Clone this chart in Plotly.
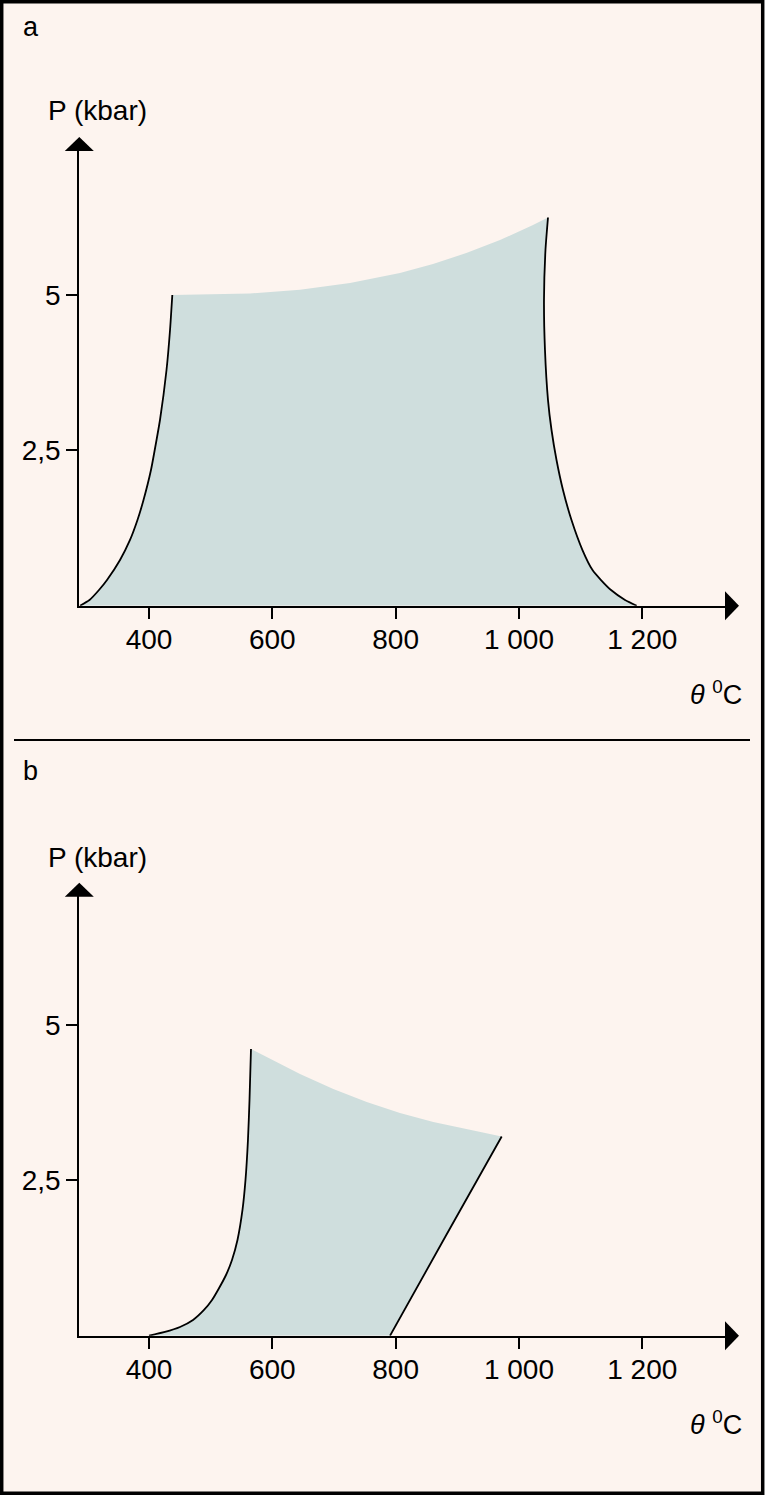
import plotly.graph_objects as go

# ---------------- data ----------------
# Panel a : stability field, temperature (°C) vs pressure (kbar)
A_LEFT_T = [288.1, 303.5, 318.9, 331.9, 353.0, 369.2, 381.3, 391.1, 403.2, 412.2, 417.8, 428.4, 434.1, 437.8]
A_LEFT_P = [0, 0.092, 0.253, 0.414, 0.736, 1.058, 1.379, 1.701, 2.184, 2.667, 2.989, 3.794, 4.438, 5.001]
A_TOP_T = [437.8, 563.8, 644.9, 726.0, 807.0, 860.6, 915.7, 969.3, 1022.8, 1047.1]
A_TOP_P = [5.001, 5.025, 5.085, 5.192, 5.356, 5.500, 5.680, 5.886, 6.127, 6.248]
A_RIGHT_T = [1047.1, 1043.0, 1040.6, 1042.2, 1047.1, 1052.8, 1060.9, 1071.4, 1085.2, 1103.0, 1119.3,
             1133.1, 1149.3, 1172.0, 1191.0]
A_RIGHT_P = [6.248, 5.724, 4.920, 4.115, 3.310, 2.828, 2.345, 1.862, 1.379, 0.896, 0.574,
             0.413, 0.252, 0.092, 0]

# Panel b
B_LEFT_T = [400.0, 425.9, 450.3, 471.4, 489.2, 502.2, 511.9, 524.9, 534.6, 543.5, 551.6, 556.5, 560.5, 563.0, 565.4]
B_LEFT_P = [0, 0.060, 0.140, 0.253, 0.414, 0.575, 0.736, 0.977, 1.219, 1.541, 2.024, 2.507, 3.151, 3.795, 4.615]
B_TOP_T = [565.4, 644.9, 698.9, 753.1, 807.0, 861.1, 915.2, 972.0]
B_TOP_P = [4.615, 4.212, 3.970, 3.761, 3.584, 3.439, 3.322, 3.206]
B_RIGHT_T = [972.0, 881.0, 790.9]
B_RIGHT_P = [3.206, 1.60, 0]

X_TICKS = [400, 600, 800, 1000, 1200]
X_TICK_TEXT = ["400", "600", "800", "1 000", "1 200"]
Y_TICKS = [2.5, 5]
Y_TICK_TEXT = ["2,5", "5"]

# ---------------- styling / layout geometry ----------------
W, H = 769, 1500
BG = "#fdf4ef"
FILL = "#cfdedd"
FONT = "Liberation Sans"

PX_PER_T = 0.6166      # px per °C
PX_PER_P = 62.13       # px per kbar
T_REF, T_REF_PX = 400, 149.0
X0_PX, X1_PX = 79.3, 726.0        # x-axis line extent (px)
ARROW_LEN, ARROW_HALF = 14.0, 14.5

PANELS = [
    dict(base=605.7, top=150.0, letter="a", letter_y=26.5, label_y=111.0, theta_y=693.3),
    dict(base=1335.7, top=895.7, letter="b", letter_y=770.5, label_y=857.0, theta_y=1423.3),
]


def fx(px):
    return px / W


def fy(py):
    return 1 - py / H


def t_at(px):
    return T_REF + (px - T_REF_PX) / PX_PER_T


fig = go.Figure()

areas = [
    (A_LEFT_T, A_LEFT_P, A_TOP_T, A_TOP_P, A_RIGHT_T, A_RIGHT_P),
    (B_LEFT_T, B_LEFT_P, B_TOP_T, B_TOP_P, B_RIGHT_T, B_RIGHT_P),
]

shapes = []
annotations = []

for i, (panel, area) in enumerate(zip(PANELS, areas)):
    lt, lp, tt, tp, rt, rp = area
    sfx = "" if i == 0 else str(i + 1)
    xa, ya = "x" + sfx, "y" + sfx
    poly_t = lt + tt[1:] + rt[1:]
    poly_p = lp + tp[1:] + rp[1:]
    fig.add_trace(go.Scatter(x=poly_t, y=poly_p, mode="lines", fill="toself",
                             fillcolor=FILL, line=dict(width=0, color=FILL),
                             hoverinfo="skip", showlegend=False, xaxis=xa, yaxis=ya))
    for ct, cp in ((lt, lp), (rt, rp)):
        fig.add_trace(go.Scatter(x=ct, y=cp, mode="lines",
                                 line=dict(color="black", width=1.8, shape="spline", smoothing=0.6),
                                 hoverinfo="skip", showlegend=False, xaxis=xa, yaxis=ya))

    base, top = panel["base"], panel["top"]
    xaxis = dict(domain=[fx(X0_PX), fx(X1_PX)], range=[t_at(X0_PX), t_at(X1_PX)],
                 anchor=ya, showline=True, linecolor="black", linewidth=2,
                 ticks="outside", ticklen=11, tickwidth=1.8, tickcolor="black",
                 tickvals=X_TICKS, ticktext=X_TICK_TEXT, ticklabelstandoff=-3,
                 tickfont=dict(family=FONT, size=28, color="black"),
                 showgrid=False, zeroline=False, fixedrange=True)
    yaxis = dict(domain=[fy(base), fy(top)], range=[0, (base - top) / PX_PER_P],
                 anchor=xa, showline=True, linecolor="black", linewidth=2,
                 ticks="outside", ticklen=11, tickwidth=1.8, tickcolor="black",
                 tickvals=Y_TICKS, ticktext=Y_TICK_TEXT,
                 tickfont=dict(family=FONT, size=28, color="black"),
                 showgrid=False, zeroline=False, fixedrange=True)
    fig.update_layout(**{"xaxis" + sfx: xaxis, "yaxis" + sfx: yaxis})

    # arrow heads
    shapes.append(dict(type="path", xref="paper", yref="paper", layer="above",
                       path=f"M {fx(X1_PX - 1)} {fy(base - ARROW_HALF)} L {fx(X1_PX - 1 + ARROW_LEN)} {fy(base)} "
                            f"L {fx(X1_PX - 1)} {fy(base + ARROW_HALF)} Z",
                       fillcolor="black", line=dict(width=0)))
    shapes.append(dict(type="path", xref="paper", yref="paper", layer="above",
                       path=f"M {fx(X0_PX - ARROW_HALF)} {fy(top + 1)} L {fx(X0_PX)} {fy(top + 1 - ARROW_LEN)} "
                            f"L {fx(X0_PX + ARROW_HALF)} {fy(top + 1)} Z",
                       fillcolor="black", line=dict(width=0)))

    annotations.append(dict(text=panel["letter"], x=fx(20.5), y=fy(panel["letter_y"]),
                            xref="paper", yref="paper", xanchor="left", yanchor="middle",
                            showarrow=False, font=dict(family=FONT, size=27, color="black")))
    annotations.append(dict(text="P (kbar)", x=fx(97.2), y=fy(panel["label_y"]),
                            xref="paper", yref="paper", xanchor="center", yanchor="middle",
                            showarrow=False, font=dict(family=FONT, size=28, color="black")))
    annotations.append(dict(text="<i>θ</i> <sup>0</sup>C", x=fx(743.5), y=fy(panel["theta_y"]),
                            xref="paper", yref="paper", xanchor="right", yanchor="middle",
                            showarrow=False, font=dict(family=FONT, size=27, color="black")))

# frame and separator
shapes.insert(0, dict(type="rect", xref="paper", yref="paper", layer="below",
                      x0=fx(1.7), x1=fx(762.7), y0=fy(1.7), y1=fy(1493.2),
                      fillcolor=BG, line=dict(color="black", width=3.5)))
shapes.append(dict(type="line", xref="paper", yref="paper",
                   x0=fx(14), x1=fx(750), y0=fy(740), y1=fy(740),
                   line=dict(color="black", width=2)))

fig.update_layout(width=W, height=H, margin=dict(l=0, r=0, t=0, b=0, pad=0),
                  paper_bgcolor="white", plot_bgcolor="rgba(0,0,0,0)",
                  shapes=shapes, annotations=annotations, showlegend=False)

fig.write_html("out.html", config={"displayModeBar": False},
               post_script="document.body.style.margin='0';document.body.style.overflow='hidden';")
